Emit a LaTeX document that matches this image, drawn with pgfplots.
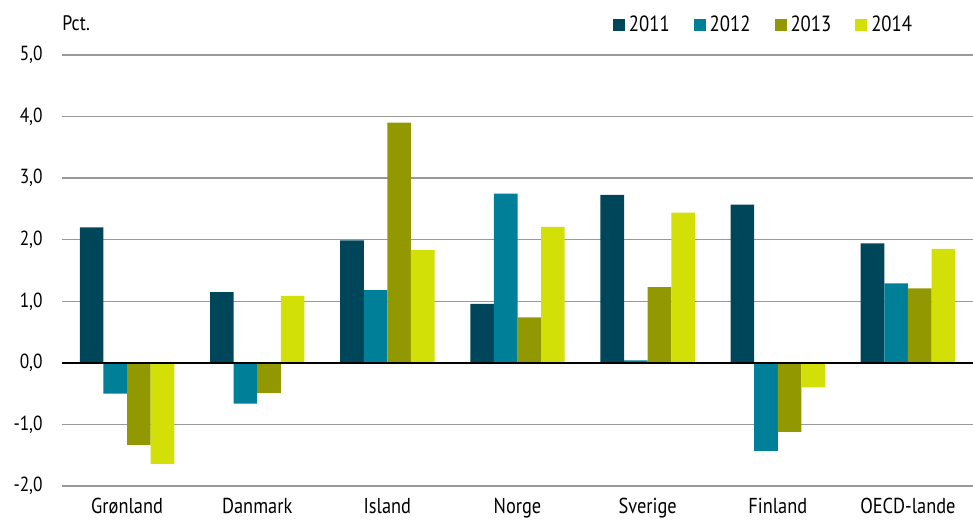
\documentclass[border=0pt]{standalone}
\usepackage{fontspec}
\setmainfont{PT Sans}[FakeStretch=0.85]
\usepackage{pgfplots}
\pgfplotsset{compat=1.18}
\definecolor{c11}{RGB}{0,70,90}
\definecolor{c12}{RGB}{0,128,152}
\definecolor{c13}{RGB}{146,153,0}
\definecolor{c14}{RGB}{210,224,8}
\begin{document}
\begin{tikzpicture}
\useasboundingbox (-31pt,-17.5pt) rectangle (455.5pt,243pt);
\begin{axis}[
  at={(0,0)}, anchor=south west,
  scale only axis, width=455.5pt, height=215.5pt,
  ymin=-2, ymax=5, ytick={-2,-1,0,1,2,3,4,5},
  xmin=-0.5, xmax=6.5,
  xtick={0,1,2,3,4,5,6},
  xticklabels={Grønland,Danmark,Island,Norge,Sverige,Finland,OECD-lande},
  axis line style={draw=none},
  ymajorgrids, grid style={color=black!40, line width=0.75pt},
  major tick length=0pt,
  /pgf/number format/.cd, fixed, fixed zerofill, precision=1, use comma, assume math mode=true,
  /pgfplots/.cd,
  yticklabel style={font=\fontsize{10.2}{12}\selectfont, inner sep=0pt, anchor=east, xshift=-9.5pt},
  xticklabel style={font=\fontsize{10.8}{12}\selectfont, inner sep=0pt, anchor=north, yshift=-6pt},
  ybar=0pt, bar width=11.8pt,
  every axis plot/.append style={draw=none},
  legend columns=4,
  legend style={draw=none, at={(0.6048,1.0696)}, anchor=west, inner sep=0pt, outer sep=0pt,
    font=\fontsize{11}{13}\selectfont, column sep=0pt,
    /tikz/every even column/.style={column sep=10pt}},
  legend image code/.code={\fill[#1, draw=none] (0pt,-3pt) rectangle (6pt,3pt);},
]
\addplot[fill=c11] coordinates {(0,2.20) (1,1.15) (2,1.99) (3,0.96) (4,2.73) (5,2.57) (6,1.94)};
\addplot[fill=c12] coordinates {(0,-0.50) (1,-0.66) (2,1.18) (3,2.75) (4,0.04) (5,-1.43) (6,1.29)};
\addplot[fill=c13] coordinates {(0,-1.33) (1,-0.49) (2,3.90) (3,0.74) (4,1.23) (5,-1.12) (6,1.21)};
\addplot[fill=c14] coordinates {(0,-1.64) (1,1.09) (2,1.83) (3,2.21) (4,2.44) (5,-0.40) (6,1.85)};
\legend{2011,2012,2013,2014}
\draw[black, line width=1pt] (axis cs:-0.5,0) -- (axis cs:6.5,0);
\end{axis}
\node[anchor=base west, inner sep=0pt, font=\fontsize{10.5}{12}\selectfont] at (0pt,228pt) {Pct.};
\end{tikzpicture}
\end{document}
